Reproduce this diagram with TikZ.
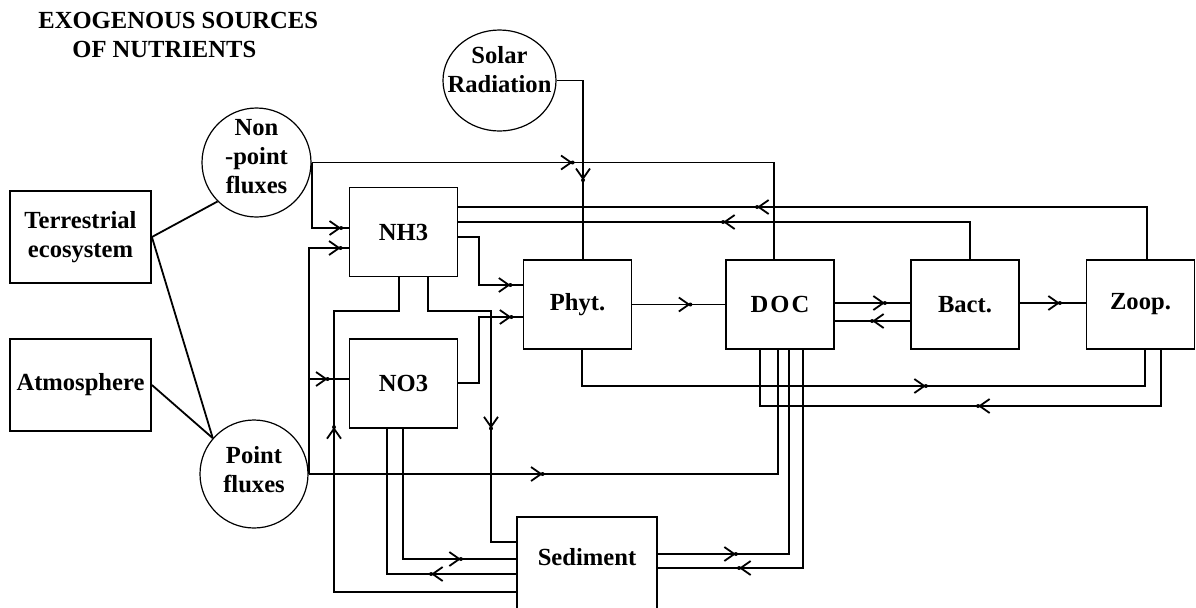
\documentclass[tikz,border=0pt]{standalone}
\usepackage{fontspec}
\setmainfont{Liberation Serif}
\usetikzlibrary{arrows.meta,decorations.markings,shapes.geometric}

\begin{document}
\begin{tikzpicture}[
  x=0.5pt, y=-0.5pt,
  >={Straight Barb[length=5pt,width=7pt]},
  every node/.style={
    font=\bfseries\fontsize{12.3}{14.5}\selectfont,
    align=center,
    inner sep=0pt
  },
  box/.style={
    draw,
    line width=0.9pt,
    minimum width=54pt,
    minimum height=44.5pt
  },
  pool/.style={
    draw,
    ellipse,
    line width=0.6pt,
    minimum width=54.5pt,
    minimum height=54.5pt
  },
  flow/.style={line width=0.9pt},
  arrat/.style={
    postaction={decorate,
      decoration={markings,
        mark=at position #1 with {\arrow{>}\fill (0,0) circle (1pt);}}}
  }
]
\useasboundingbox (0,0) rectangle (1196,607);

% Title
\node[anchor=north west, align=left] (title) at (38,12)
  {EXOGENOUS SOURCES\\\hspace*{17pt}OF NUTRIENTS};

% Sources
\node[box, minimum width=70.5pt, minimum height=46pt] (terr) at (80.5,237)
  {Terrestrial\\ecosystem};
\node[box, minimum width=70.5pt, minimum height=46pt] (atm) at (80.5,385)
  {Atmosphere};
\node[pool, label={[yshift=3pt]center:Non\\-point\\fluxes}] (nonpt)
  at (256.5,162.5) {};
\node[pool, minimum width=54pt, minimum height=54pt,
      label={[yshift=2pt]center:Point\\fluxes}] (point) at (254,474) {};
\node[pool, minimum width=56.5pt, minimum height=50.5pt,
      label={[yshift=5.5pt]center:Solar\\Radiation}] (solar) at (499.5,80.5) {};

% Pools
\node[box] (nh3) at (403.5,232) {NH3};
\node[box] (no3) at (403.5,383.5) {NO3};
\node[box] (phyt) at (577.5,304.5) {Phyt.};
\node[box] (doc) at (780,304.5) {D\kern1pt O\kern1pt C};
\node[box] (bact) at (965,304.5) {Bact.};
\node[box] (zoop) at (1140.5,304.5) {Zoop.};
\node[box, minimum width=70pt, minimum height=48pt, text depth=8pt] (sed)
  at (587,565) {Sediment};

% Land and air to fluxes
\draw[flow] (terr.east) -- (nonpt.225);
\draw[flow] (terr.east) -- (point.139);
\draw[flow] (atm.east) -- (point.139);

% Non-point fluxes
\draw[flow, arrat=47.5pt] (nonpt.east) |- (nh3.west |- 0,228);
\draw[flow, arrat=130.5pt] (nonpt.east) -| (doc.north -| 774,0);

% Point fluxes
\draw[flow, arrat=129pt] (point.east) |- (nh3.west |- 0,248);
\draw[flow, arrat=57pt] (point.east) |- (no3.west |- 0,379);
\draw[flow, arrat=117pt] (point.east) -| (doc.south -| 778,0);

% Solar radiation
\draw[flow, arrat=63pt] (solar.east) -| (phyt.north -| 583,0);

% Regeneration to NH3
\draw[flow, arrat=221pt] (zoop.north -| 1147,0) |- (nh3.east |- 0,207);
\draw[flow, arrat=142pt] (bact.north -| 970,0) |- (nh3.east |- 0,222);

% Uptake
\draw[flow, arrat=50pt] (nh3.east |- 0,237) -| (479,285) -- (phyt.west |- 0,285);
\draw[flow, arrat=59.5pt] (no3.east |- 0,383) -| (479,317) -- (phyt.west |- 0,317);

% Food web
\draw[flow, arrat=29pt] (phyt.east) -- (doc.west);
\draw[flow, arrat=190pt] (phyt.south -| 582,0) |- (1145,386) -- (zoop.south -| 1145,0);
\draw[flow, arrat=119.5pt] (zoop.south -| 1161,0) |- (760,406) -- (doc.south -| 760,0);
\draw[flow, arrat=25pt] (doc.east |- 0,303) -- (bact.west |- 0,303);
\draw[flow, arrat=19pt] (bact.west |- 0,321) -- (doc.east |- 0,321);
\draw[flow, arrat=20pt] (bact.east |- 0,303) -- (zoop.west |- 0,303);

% Sediment exchanges
\draw[flow, arrat=39pt] (sed.east |- 0,554) -| (doc.south -| 789,0);
\draw[flow, arrat=141pt] (doc.south -| 803,0) |- (sed.east |- 0,568);
\draw[flow, arrat=173.5pt] (sed.west |- 0,592) -| (334,311) -| (nh3.south -| 399,0);
\draw[flow, arrat=107pt] (nh3.south -| 428,0) |- (491,311) |- (sed.west |- 0,542);
\draw[flow, arrat=94pt] (no3.south -| 403,0) |- (sed.west |- 0,559);
\draw[flow, arrat=42.5pt] (sed.west |- 0,574) -| (no3.south -| 387,0);

\end{tikzpicture}
\end{document}
